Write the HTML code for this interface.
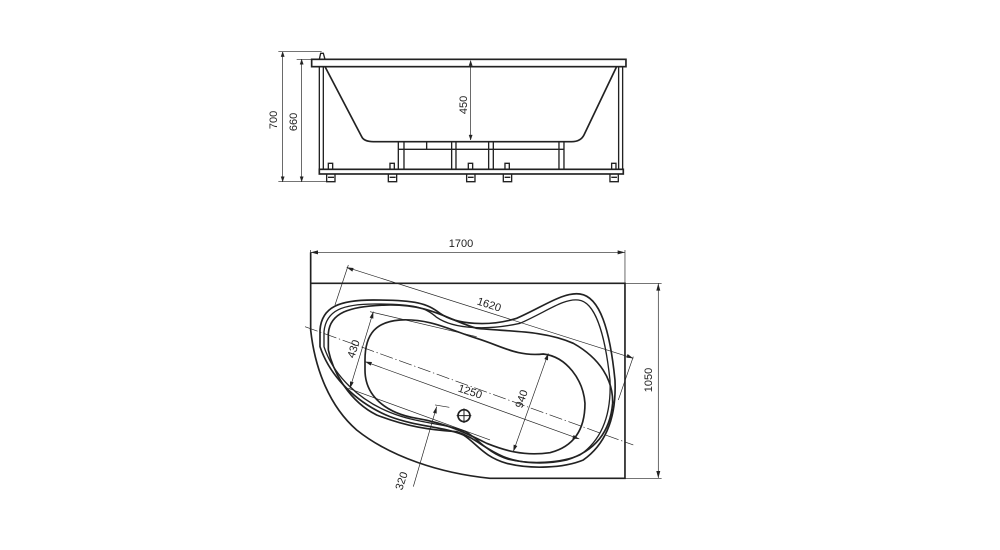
<!DOCTYPE html>
<html><head><meta charset="utf-8"><style>
html,body{margin:0;padding:0;background:#fff;width:1000px;height:550px;overflow:hidden}
text{font-family:"Liberation Sans",sans-serif;fill:#222}
</style></head><body>
<svg width="1000" height="550" viewBox="0 0 1000 550" xmlns="http://www.w3.org/2000/svg">
<g transform="translate(260,40) scale(0.3333)" fill="none" stroke="#222">
 <!-- rim -->
 <rect x="155" y="58" width="943" height="22" stroke-width="5"/>
 <path d="M178 58 L182 40 L190 40 L195 58" stroke-width="4"/>
 <!-- frame -->
 <rect x="178" y="80" width="12" height="308" stroke-width="4"/>
 <rect x="1076" y="80" width="12" height="308" stroke-width="4"/>
 <rect x="178" y="388" width="912" height="14" stroke-width="5"/>
 <!-- basin -->
 <path d="M195 80 L305 290 Q312 305 340 305 L935 305 Q962 305 972 285 L1070 80" stroke-width="5"/>
 <!-- bottom blocks -->
 <path d="M415 305 V388 M432 305 V388 M575 305 V388 M588 305 V388 M686 305 V388 M700 305 V388 M897 305 V388 M912 305 V388 M415 328 H912 M500 305 V328" stroke-width="4"/>
 <!-- legs -->
 <g stroke-width="4">
  <path d="M205 388 V370 H218 V388 M200 402 V425 H225 V402 M204 412 H222"/>
  <path d="M390 388 V370 H403 V388 M385 402 V425 H410 V402 M389 412 H407"/>
  <path d="M625 388 V370 H638 V388 M620 402 V425 H645 V402 M624 412 H641"/>
  <path d="M735 388 V370 H748 V388 M730 402 V425 H755 V402 M734 412 H751"/>
  <path d="M1055 388 V370 H1068 V388 M1050 402 V425 H1075 V402 M1054 412 H1071"/>
 </g>
 <!-- dims -->
 <path d="M68 35 V425 M125 58 V425 M55 35 H185 M110 58 H160 M55 425 H200 M632 62 V300" stroke-width="2"/>
 <path d="M68 35 l-5 15 h10z M68 425 l-5 -15 h10z M125 58 l-5 15 h10z M125 425 l-5 -15 h10z M632 62 l-5 15 h10z M632 300 l-5 -15 h10z" fill="#222" stroke-width="1"/>
</g>
<text transform="translate(277,120) rotate(-90)" font-size="11" text-anchor="middle">700</text>
<text transform="translate(297,122) rotate(-90)" font-size="11" text-anchor="middle">660</text>
<text transform="translate(467,105) rotate(-90)" font-size="11" text-anchor="middle">450</text>

<g transform="translate(290,230) scale(0.3333)" fill="none" stroke="#222">
 <!-- outer shell -->
 <path d="M62 67 V160 H1005 V745 H600 C450 730 300 680 200 600 C120 530 75 420 62 300 V160" stroke-width="5"/>
 <!-- rim contours -->
 <path d="M90 300 C95 230 150 210 250 210 C380 210 410 220 450 250 C500 285 600 290 680 265 C760 230 820 185 870 192 C930 200 960 300 975 450 C980 560 950 640 880 690 C820 715 720 718 650 700 C580 680 560 640 520 615 C460 590 380 590 300 560 C200 520 120 440 90 350 Z" stroke-width="5"/>
 <path d="M102 305 C108 240 160 222 255 222 C375 222 405 232 440 262 C495 300 600 300 690 280 C770 245 820 205 865 210 C915 215 945 310 960 450 C965 555 935 630 870 675 C810 700 720 703 655 688 C590 668 570 630 528 605 C465 580 380 580 302 548 C205 510 130 435 102 350 Z" stroke-width="4"/>
 <path d="M115 310 C120 250 175 228 290 225 C420 222 470 268 560 295 C650 305 760 300 850 340 C930 385 970 450 968 520 C960 610 910 665 830 690 C760 705 690 700 640 680 C580 655 560 625 500 605 C420 600 350 590 260 555 C180 515 130 430 115 360 Z" stroke-width="5"/>
 <!-- inner basin -->
 <path d="M225 390 C225 310 260 275 330 270 C420 265 480 300 560 325 C640 350 680 380 760 372 C830 380 880 450 885 520 C885 600 850 650 780 668 C700 680 640 660 590 640 C530 610 470 580 380 565 C290 550 225 500 225 420 Z" stroke-width="5"/>
 <!-- center dash-dot -->
 <path d="M45 290 L1030 645" stroke-width="2" stroke-dasharray="40 8 4 8"/>
 <!-- dimension lines -->
 <g stroke-width="2">
  <path d="M170 112 L1030 385 M175 105 L135 225 M1030 380 L985 510"/>
  <path d="M225 395 L868 627"/>
  <path d="M250 245 L180 475 M240 245 L560 320 M175 475 L600 630"/>
  <path d="M775 370 L670 665"/>
  <path d="M440 530 L370 770 M435 525 L478 532"/>
  <path d="M62 67 H1005 M62 60 V160 M1005 60 V160 M1105 160 V745 M1005 160 H1115 M1005 745 H1115"/>
 </g>
 <g fill="#222" stroke="none">
  <path d="M62 67 l22 -6 v12z M1005 67 l-22 -6 v12z M1105 160 l-6 22 h12z M1105 745 l-6 -22 h12z"/>
  <path d="M170 112 l21 2 l-4 11z M1030 385 l-21 -2 l4 -11z"/>
  <path d="M225 395 l21 1 l-4 11z M868 627 l-21 -1 l4 -11z"/>
  <path d="M250 245 l0 21 l-11 -3z M180 475 l0 -21 l11 3z"/>
  <path d="M775 370 l-1 21 l-11 -4z M670 665 l1 -21 l11 4z"/>
  <path d="M440 530 l0 21 l-11 -3z"/>
 </g>
 <circle cx="522" cy="557" r="18" stroke-width="5"/>
 <path d="M500 557 H544 M522 535 V579" stroke-width="3"/>
</g>
<text x="461" y="247" font-size="11" text-anchor="middle">1700</text>
<text transform="translate(652,380) rotate(-90)" font-size="11" text-anchor="middle">1050</text>
<text transform="translate(488,308) rotate(18)" font-size="11" text-anchor="middle">1620</text>
<text transform="translate(469,395) rotate(18)" font-size="11" text-anchor="middle">1250</text>
<text transform="translate(357,350) rotate(-72)" font-size="11" text-anchor="middle">430</text>
<text transform="translate(525,400) rotate(-72)" font-size="11" text-anchor="middle">940</text>
<text transform="translate(405,482) rotate(-72)" font-size="11" text-anchor="middle">320</text>
</svg>
</body></html>
